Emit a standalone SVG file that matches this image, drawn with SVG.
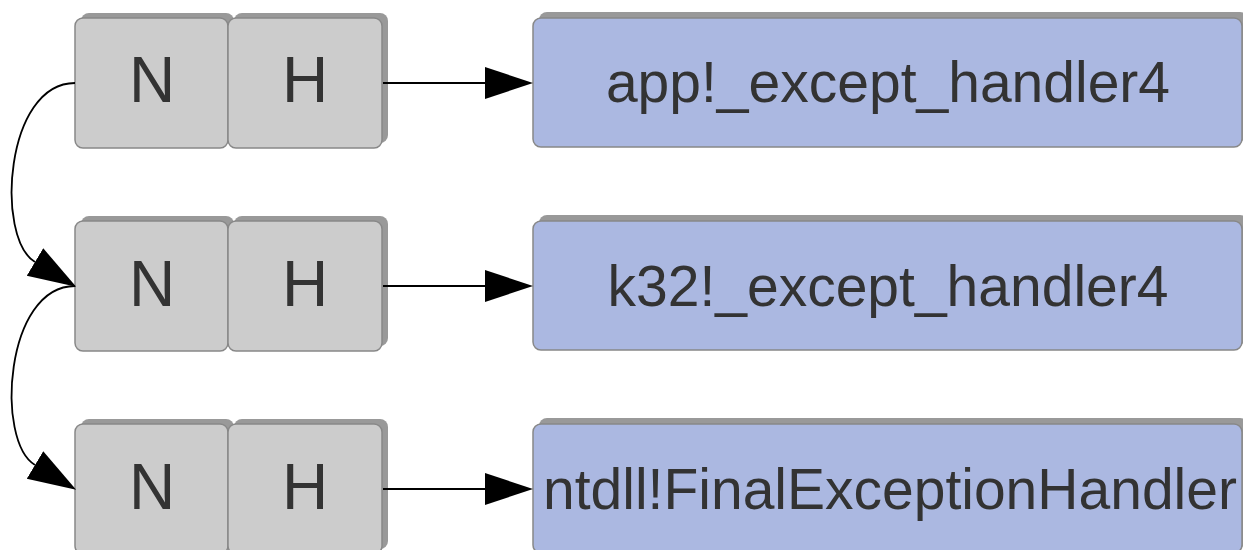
<svg xmlns="http://www.w3.org/2000/svg" width="1243" height="550" viewBox="0 0 1243 550">
<style>
.sh{fill:#999999;stroke:none}
.g{fill:#cccccc;stroke:#888888;stroke-width:1.5}
.b{fill:#abb8e1;stroke:#888888;stroke-width:1.5}
.t{font-family:"Liberation Sans",Arial,sans-serif;fill:#333333;text-anchor:middle}
.nh{font-size:64px}
.bt{font-size:57px}
.c{fill:none;stroke:#000000;stroke-width:1.8}
</style>
<defs>
<marker id="ah" markerUnits="userSpaceOnUse" markerWidth="50" markerHeight="34" viewBox="0 -17 50 34" refX="0" refY="0" orient="auto">
<path d="M0,-16 L48,0 L0,16 z" fill="#000000"/>
</marker>
</defs>
<g id="row1">
<g id="n1"><rect class="sh" x="81" y="13" width="153" height="130" rx="8"/><rect class="g" x="75" y="18" width="153" height="130" rx="8"/><text class="t nh" x="152" y="102">N</text></g>
<g id="h1"><rect class="sh" x="234" y="13" width="154" height="130" rx="8"/><rect class="g" x="228" y="18" width="154" height="130" rx="8"/><text class="t nh" x="305" y="102">H</text></g>
<g id="f1"><rect class="sh" x="539" y="12" width="709" height="129" rx="8"/><rect class="b" x="533" y="18" width="709" height="129" rx="8"/><text class="t bt" x="888" y="102">app!_except_handler4</text></g>
</g>
<g id="row2">
<g id="n2"><rect class="sh" x="81" y="216" width="153" height="130" rx="8"/><rect class="g" x="75" y="221" width="153" height="130" rx="8"/><text class="t nh" x="152" y="306">N</text></g>
<g id="h2"><rect class="sh" x="234" y="216" width="154" height="130" rx="8"/><rect class="g" x="228" y="221" width="154" height="130" rx="8"/><text class="t nh" x="305" y="306">H</text></g>
<g id="f2"><rect class="sh" x="539" y="215" width="709" height="129" rx="8"/><rect class="b" x="533" y="221" width="709" height="129" rx="8"/><text class="t bt" x="888" y="306">k32!_except_handler4</text></g>
</g>
<g id="row3">
<g id="n3"><rect class="sh" x="81" y="419" width="153" height="130" rx="8"/><rect class="g" x="75" y="424" width="153" height="130" rx="8"/><text class="t nh" x="152" y="509">N</text></g>
<g id="h3"><rect class="sh" x="234" y="419" width="154" height="130" rx="8"/><rect class="g" x="228" y="424" width="154" height="130" rx="8"/><text class="t nh" x="305" y="509">H</text></g>
<g id="f3"><rect class="sh" x="539" y="418" width="709" height="129" rx="8"/><rect class="b" x="533" y="424" width="709" height="129" rx="8"/><text class="t bt" x="890" y="509">ntdll!FinalExceptionHandler</text></g>
</g>
<g id="connectors">
<path class="c" d="M383,83 L485,83" marker-end="url(#ah)"/>
<path class="c" d="M383,286 L485,286" marker-end="url(#ah)"/>
<path class="c" d="M383,489 L485,489" marker-end="url(#ah)"/>
<path class="c" d="M75,83 C5,83 -5,238 35,262" marker-end="url(#ah)"/>
<path class="c" d="M75,286 C5,286 -5,441 35,465" marker-end="url(#ah)"/>
</g>
</svg>
